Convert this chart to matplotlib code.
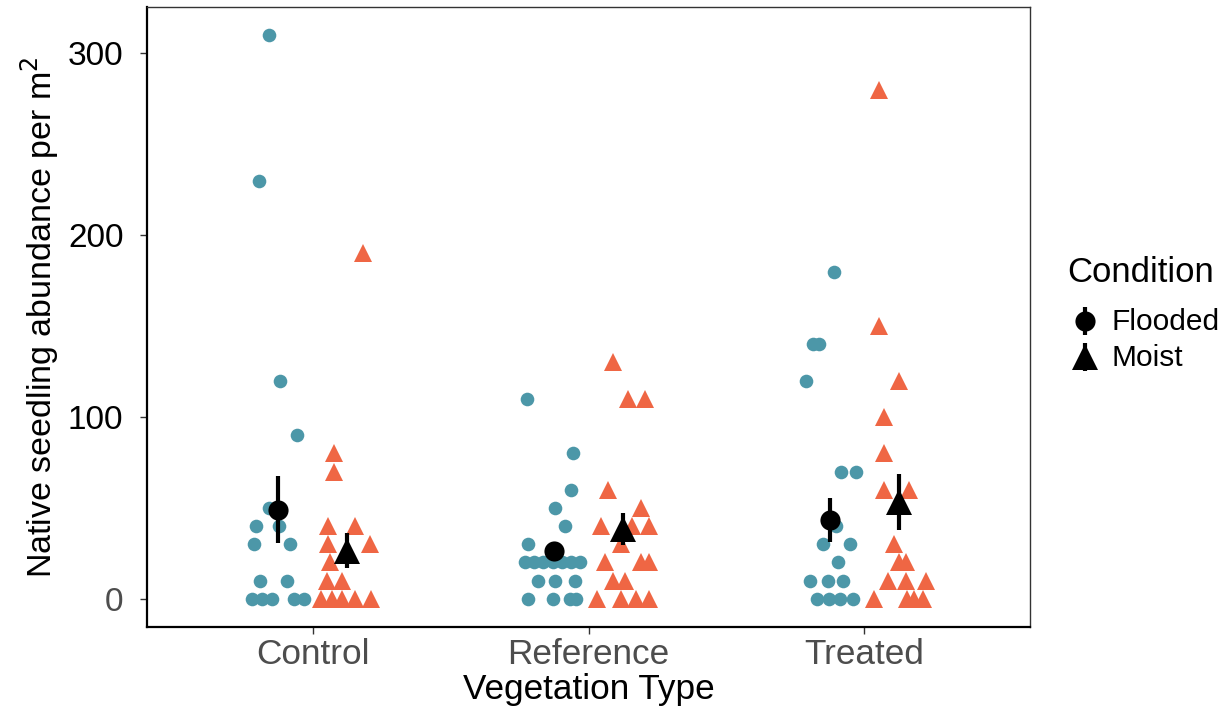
import matplotlib
matplotlib.use("Agg")
import matplotlib.pyplot as plt

plt.rcParams["font.family"] = ["Liberation Sans", "DejaVu Sans"]

# ---- data -------------------------------------------------------------
veg_types = ["Control", "Reference", "Treated"]
conditions = ["Flooded", "Moist"]

# raw plot-level abundances (per m^2)
control_flooded = [310, 230, 120, 90, 50, 40, 40, 30, 30, 10, 10, 0, 0, 0, 0, 0]
control_moist = [190, 80, 70, 40, 40, 30, 30, 20, 10, 10, 0, 0, 0, 0, 0]
reference_flooded = [110, 80, 60, 50, 40, 30, 20, 20, 20, 20, 20, 20, 20,
                     10, 10, 10, 0, 0, 0, 0]
reference_moist = [130, 110, 110, 60, 50, 40, 40, 40, 30, 20, 20, 20,
                   10, 10, 0, 0, 0, 0]
treated_flooded = [180, 140, 140, 120, 70, 70, 40, 30, 30, 20, 10, 10, 10,
                   0, 0, 0, 0]
treated_moist = [280, 150, 120, 100, 80, 60, 60, 30, 20, 20, 10, 10, 10,
                 0, 0, 0, 0]

# horizontal jitter applied to each raw point (x units)
control_flooded_jit = [-0.034, -0.070, 0.006, 0.069, -0.033, -0.081, 0.003,
                       -0.089, 0.045, -0.065, 0.034, -0.093, -0.057, -0.021,
                       0.057, 0.094]
control_moist_jit = [0.056, -0.048, -0.048, -0.068, 0.030, -0.068, 0.084,
                     -0.060, -0.072, -0.020, -0.096, -0.056, -0.017, 0.030,
                     0.088]
reference_flooded_jit = [-0.099, 0.069, 0.063, 0.005, 0.039, -0.093, -0.105,
                         -0.073, -0.040, -0.004, 0.028, 0.061, 0.093, -0.057,
                         0.003, 0.075, -0.095, -0.003, 0.057, 0.081]
reference_moist_jit = [-0.036, 0.018, 0.078, -0.055, 0.066, -0.078, 0.031,
                       0.096, -0.006, -0.066, 0.066, 0.096, -0.036, 0.006,
                       -0.096, -0.006, 0.048, 0.096]
treated_flooded_jit = [0.013, -0.063, -0.038, -0.088, 0.041, 0.095, 0.023,
                       -0.026, 0.071, 0.029, -0.074, -0.008, 0.047, -0.048,
                       -0.005, 0.038, 0.082]
treated_moist_jit = [-0.071, -0.071, 0.001, -0.053, -0.053, -0.053, 0.038,
                     -0.017, 0.001, 0.027, -0.041, 0.026, 0.098, -0.089,
                     0.031, 0.056, 0.086]

# group means and standard errors
flooded_mean = [49.0, 26.4, 43.5]
flooded_se = [18.5, 4.0, 12.0]
moist_mean = [26.5, 38.4, 53.2]
moist_se = [9.7, 8.7, 15.2]

# ---- styling ----------------------------------------------------------
teal = "#4C97A8"
orange = "#EF6644"
dodge = 0.125

raw = {
    ("Flooded", 0): (control_flooded, control_flooded_jit),
    ("Moist", 0): (control_moist, control_moist_jit),
    ("Flooded", 1): (reference_flooded, reference_flooded_jit),
    ("Moist", 1): (reference_moist, reference_moist_jit),
    ("Flooded", 2): (treated_flooded, treated_flooded_jit),
    ("Moist", 2): (treated_moist, treated_moist_jit),
}
cond_style = {
    "Flooded": dict(marker="o", color=teal, ms=9.8, mean_ms=14.5, shift=-dodge),
    "Moist": dict(marker="^", color=orange, ms=12.3, mean_ms=18.5, shift=dodge),
}

W, H = 1231, 709
fig = plt.figure(figsize=(W / 100, H / 100), dpi=100)
ax = fig.add_axes([147 / W, 82 / H, 883 / W, 620 / H])

for (cond, i), (vals, jit) in raw.items():
    st = cond_style[cond]
    xs = [i + 1 + st["shift"] + j for j in jit]
    ax.plot(xs, vals, linestyle="none", marker=st["marker"], ms=st["ms"],
            color=st["color"], markeredgewidth=0, zorder=2)

# means with standard-error bars
for cond, means, ses in [("Flooded", flooded_mean, flooded_se),
                         ("Moist", moist_mean, moist_se)]:
    st = cond_style[cond]
    xs = [i + 1 + st["shift"] for i in range(len(veg_types))]
    ax.errorbar(xs, means, yerr=ses, fmt="none", ecolor="black",
                elinewidth=3.0, capsize=0, zorder=3)
    ax.plot(xs, means, linestyle="none", marker=st["marker"], ms=st["mean_ms"],
            color="black", markeredgewidth=0, zorder=4)

ax.set_xlim(0.4, 3.6)
ax.set_ylim(-15.5, 325.5)
ax.set_xticks([1, 2, 3])
ax.set_xticklabels(veg_types)
ax.set_yticks([0, 100, 200, 300])

ax.tick_params(axis="both", direction="out", length=5, width=1.0,
               color="#333333")
ax.tick_params(axis="x", labelcolor="#4D4D4D", labelsize=25.3, pad=3)
ax.tick_params(axis="y", labelcolor="black", labelsize=24, pad=12)
ax.get_yticklabels()[0].set_color("#4D4D4D")

for side in ["left", "bottom"]:
    ax.spines[side].set_linewidth(1.6)
    ax.spines[side].set_color("black")
for side in ["top", "right"]:
    ax.spines[side].set_linewidth(1.0)
    ax.spines[side].set_color("#333333")

ax.set_xlabel("Vegetation Type", fontsize=25.3, labelpad=1)
ax.set_ylabel("Native seedling abundance per m$^2$", fontsize=24.5, labelpad=5)

# legend drawn in figure pixel space: mean marker crossed by an error stroke
lg = fig.add_axes([0, 0, 1, 1], facecolor="none")
lg.set_xlim(0, W)
lg.set_ylim(H, 0)
lg.axis("off")
lg.text(1067, 272, "Condition", fontsize=25, va="center", ha="left")
key_x, key_y0, key_step, key_half = 1085, 321, 36, 14
for k, cond in enumerate(conditions):
    st = cond_style[cond]
    cy = key_y0 + k * key_step
    lg.plot([key_x, key_x], [cy - key_half, cy + key_half], color="black",
            lw=3.0, solid_capstyle="butt")
    lg.plot([key_x], [cy], linestyle="none", marker=st["marker"],
            ms=st["mean_ms"], color="black", markeredgewidth=0)
    lg.text(1112, cy + 1, cond, fontsize=21.5, va="center", ha="left")

fig.savefig("out.png", dpi=100)
